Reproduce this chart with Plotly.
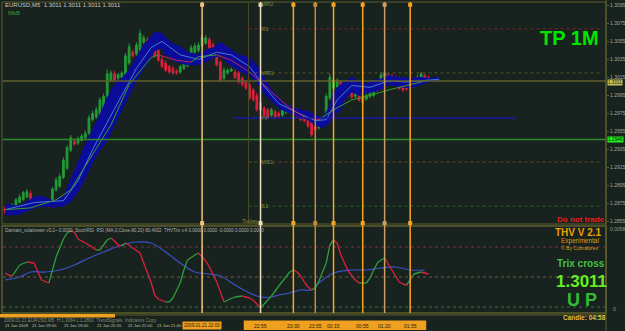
import plotly.graph_objects as go

# ---------------- data ----------------
opens = [1.2870, 1.2871, 1.2868, 1.2868, 1.2876, 1.2879, 1.2882, 1.2886, 1.2880, 1.2878,
         1.2875, 1.2877, 1.2876, 1.2876, 1.2890, 1.2894, 1.2904, 1.2914, 1.2934, 1.2944,
         1.2942, 1.2945, 1.2948, 1.2953, 1.2968, 1.2971, 1.2975, 1.2974, 1.2994, 1.3012,
         1.3019, 1.3014, 1.3015, 1.3017, 1.3031, 1.3043, 1.3041, 1.3045, 1.3054, 1.3057,
         1.3053, 1.3049, 1.3045, 1.3035, 1.3031, 1.3027, 1.3025, 1.3022, 1.3021, 1.3025,
         1.3028, 1.3032, 1.3043, 1.3045, 1.3050, 1.3053, 1.3057, 1.3051, 1.3045, 1.3032,
         1.3014, 1.3020, 1.3022, 1.3021, 1.3020, 1.3014, 1.3010, 1.3007, 1.3001, 1.2995,
         1.2987, 1.2981, 1.2979, 1.2973, 1.2977, 1.2975, 1.2973, 1.2976, 1.2977, 1.2979,
         1.2979, 1.2973, 1.2973, 1.2970, 1.2965, 1.2960, 1.2959, 1.2962, 1.2968, 1.2992,
         1.3003, 1.3005, 1.3010, 1.3001, 1.2995, 1.2998, 1.2994, 1.2995, 1.2994, 1.2991,
         1.2994, 1.2995, 1.3001, 1.3003, 1.3012, 1.3018, 1.3017, 1.3015, 1.3014, 1.3008,
         1.3007, 1.3004, 1.3005, 1.3008, 1.3012, 1.3017, 1.3015]
closes = [1.2865, 1.2867, 1.2873, 1.2879, 1.2882, 1.2887, 1.2888, 1.2876, 1.2873, 1.2874,
          1.2878, 1.2873, 1.2872, 1.2891, 1.2901, 1.2905, 1.2923, 1.2937, 1.2948, 1.2941,
          1.2947, 1.2950, 1.2953, 1.2970, 1.2975, 1.2979, 1.2990, 1.2994, 1.3019, 1.3020,
          1.3012, 1.3018, 1.3020, 1.3039, 1.3049, 1.3039, 1.3051, 1.3064, 1.3059, 1.3045,
          1.3045, 1.3039, 1.3034, 1.3027, 1.3023, 1.3021, 1.3020, 1.3020, 1.3027, 1.3034,
          1.3032, 1.3048, 1.3050, 1.3051, 1.3060, 1.3059, 1.3048, 1.3040, 1.3029, 1.3012,
          1.3023, 1.3023, 1.3024, 1.3015, 1.3010, 1.3007, 1.3003, 1.2992, 1.2990, 1.2979,
          1.2979, 1.2973, 1.2972, 1.2979, 1.2971, 1.2972, 1.2979, 1.2980, 1.2981, 1.2974,
          1.2972, 1.2968, 1.2967, 1.2961, 1.2951, 1.2957, 1.2962, 1.2969, 1.2994, 1.3015,
          1.3012, 1.3012, 1.2999, 1.2991, 1.2999, 1.2993, 1.2999, 1.2990, 1.2987, 1.2995,
          1.2999, 1.3002, 1.3009, 1.3018, 1.3020, 1.3014, 1.3013, 1.3012, 1.3003, 1.3001,
          1.3002, 1.3009, 1.3010, 1.3015, 1.3019, 1.3012, 1.3011]
highs = [1.2872, 1.2873, 1.2875, 1.2881, 1.2885, 1.2889, 1.2891, 1.2889, 1.2882, 1.2880,
         1.2880, 1.2879, 1.2878, 1.2893, 1.2904, 1.2908, 1.2926, 1.2940, 1.2951, 1.2947,
         1.2949, 1.2952, 1.2956, 1.2973, 1.2978, 1.2982, 1.2993, 1.2997, 1.3024, 1.3023,
         1.3022, 1.3020, 1.3022, 1.3042, 1.3053, 1.3046, 1.3054, 1.3068, 1.3062, 1.3060,
         1.3056, 1.3052, 1.3048, 1.3038, 1.3034, 1.3029, 1.3028, 1.3024, 1.3029, 1.3037,
         1.3034, 1.3051, 1.3053, 1.3054, 1.3063, 1.3062, 1.3060, 1.3054, 1.3048, 1.3034,
         1.3026, 1.3025, 1.3026, 1.3024, 1.3022, 1.3016, 1.3012, 1.3009, 1.3003, 1.2998,
         1.2989, 1.2983, 1.2981, 1.2981, 1.2979, 1.2977, 1.2981, 1.2982, 1.2984, 1.2981,
         1.2981, 1.2975, 1.2975, 1.2972, 1.2967, 1.2962, 1.2964, 1.2971, 1.2997, 1.3019,
         1.3014, 1.3014, 1.3012, 1.3003, 1.3001, 1.3000, 1.3001, 1.2997, 1.2996, 1.2997,
         1.3001, 1.3004, 1.3011, 1.3021, 1.3023, 1.3020, 1.3019, 1.3017, 1.3016, 1.3010,
         1.3009, 1.3011, 1.3012, 1.3018, 1.3021, 1.3019, 1.3017]
lows = [1.2863, 1.2866, 1.2866, 1.2866, 1.2875, 1.2878, 1.2881, 1.2874, 1.2871, 1.2872,
        1.2873, 1.2871, 1.2870, 1.2874, 1.2888, 1.2892, 1.2902, 1.2912, 1.2932, 1.2939,
        1.2940, 1.2944, 1.2946, 1.2951, 1.2966, 1.2969, 1.2973, 1.2972, 1.2992, 1.3010,
        1.3010, 1.3012, 1.3013, 1.3015, 1.3029, 1.3037, 1.3039, 1.3043, 1.3052, 1.3043,
        1.3043, 1.3037, 1.3032, 1.3025, 1.3021, 1.3019, 1.3018, 1.3018, 1.3019, 1.3023,
        1.3026, 1.3030, 1.3041, 1.3043, 1.3048, 1.3051, 1.3046, 1.3038, 1.3027, 1.3010,
        1.3012, 1.3018, 1.3021, 1.3013, 1.3008, 1.3005, 1.3001, 1.2990, 1.2988, 1.2977,
        1.2977, 1.2971, 1.2970, 1.2971, 1.2969, 1.2970, 1.2971, 1.2974, 1.2975, 1.2972,
        1.2970, 1.2966, 1.2965, 1.2959, 1.2949, 1.2955, 1.2957, 1.2960, 1.2966, 1.2990,
        1.3001, 1.3003, 1.2997, 1.2989, 1.2993, 1.2991, 1.2992, 1.2988, 1.2985, 1.2989,
        1.2992, 1.2993, 1.2999, 1.3001, 1.3010, 1.3012, 1.3011, 1.3010, 1.3001, 1.2999,
        1.3000, 1.3002, 1.3003, 1.3006, 1.3010, 1.3010, 1.3010]
bars = list(range(len(closes)))

band_bars = [0, 4, 8, 10, 13, 16, 18, 20, 22, 24, 26, 28, 30, 32, 34, 36, 38, 40, 41, 43,
             44, 46, 48, 50, 53, 55, 57, 59, 61, 64, 67, 69, 71, 73, 75, 77, 80, 83, 85, 87,
             89, 90, 92, 93, 95, 97, 99, 101, 103, 105, 108, 111, 114, 116, 119]
band_upper = [1.2874, 1.2872, 1.2882, 1.2883, 1.2878, 1.2883, 1.2901, 1.2921, 1.2940, 1.2957,
              1.2973, 1.2992, 1.3007, 1.3014, 1.3023, 1.3037, 1.3051, 1.3060, 1.3065, 1.3064,
              1.3059, 1.3052, 1.3049, 1.3043, 1.3040, 1.3045, 1.3048, 1.3054, 1.3048, 1.3040,
              1.3037, 1.3028, 1.3014, 1.3001, 1.2992, 1.2985, 1.2980, 1.2977, 1.2973, 1.2970,
              1.2983, 1.2999, 1.3007, 1.3010, 1.3015, 1.3010, 1.3008, 1.3012, 1.3013, 1.3017,
              1.3015, 1.3014, 1.3015, 1.3014, 1.3015]
band_lower = [1.2862, 1.2863, 1.2870, 1.2872, 1.2871, 1.2872, 1.2877, 1.2888, 1.2903, 1.2921,
              1.2934, 1.2945, 1.2962, 1.2979, 1.2995, 1.3012, 1.3025, 1.3037, 1.3045, 1.3048,
              1.3040, 1.3034, 1.3031, 1.3029, 1.3029, 1.3032, 1.3037, 1.3039, 1.3031, 1.3023,
              1.3017, 1.3010, 1.2997, 1.2989, 1.2981, 1.2977, 1.2972, 1.2968, 1.2962, 1.2959,
              1.2965, 1.2972, 1.2979, 1.2990, 1.2999, 1.2995, 1.2998, 1.2999, 1.3002, 1.3007,
              1.3005, 1.3003, 1.3007, 1.3010, 1.3011]

signal_bars = [0, 8, 16, 20, 24, 28, 32, 36, 40, 43, 48, 53, 58, 62, 67, 71, 75, 80, 85, 88,
               91, 95, 100, 105, 110, 116, 119]
signal_vals = [1.2868, 1.2876, 1.2878, 1.2900, 1.2935, 1.2965, 1.2995, 1.3025, 1.3048, 1.3055,
               1.3040, 1.3035, 1.3043, 1.3040, 1.3027, 1.3005, 1.2986, 1.2976, 1.2967, 1.2968,
               1.2990, 1.3006, 1.3004, 1.3011, 1.3010, 1.3012, 1.3013]

trend_bars = [0, 7, 14, 18, 23, 29, 34, 40, 42, 47, 51, 53, 58, 62, 67, 73, 78, 82, 86, 90,
              95, 100, 105, 111, 116]
trend_vals = [1.2868, 1.2870, 1.2879, 1.2890, 1.2923, 1.2962, 1.3007, 1.3037, 1.3040, 1.3034,
              1.3032, 1.3038, 1.3040, 1.3034, 1.3021, 1.2999, 1.2981, 1.2971, 1.2968, 1.2979,
              1.2990, 1.2995, 1.3001, 1.3007, 1.3012]

osc_bars = [0, 1, 2, 4, 6, 8, 9, 10, 12, 13, 14, 16, 17, 18, 19, 20, 22, 23, 25, 26,
            27, 28, 29, 30, 31, 32, 33, 34, 35, 37, 38, 40, 41, 42, 44, 45, 46, 48, 49, 50,
            52, 53, 55, 56, 58, 59, 60, 61, 63, 65, 67, 68, 69, 70, 71, 73, 75, 78, 79, 80,
            81, 82, 83, 84, 85, 86, 88, 89, 90, 91, 92, 93, 94, 96, 97, 99, 100, 101, 102, 103,
            104, 105, 107, 108, 109, 110, 111, 112, 114, 116]
osc_vals = [54, 52, 51, 62, 65, 64, 55, 47, 44, 57, 70, 88, 94, 96, 95, 88, 84, 82, 77, 77,
            82, 87, 89, 86, 82, 81, 84, 82, 79, 74, 64, 45, 32, 28, 25, 25, 29, 44, 57, 67,
            72, 74, 66, 60, 45, 35, 25, 27, 30, 31, 29, 27, 23, 19, 23, 31, 41, 55, 57, 55,
            51, 45, 40, 37, 39, 46, 64, 82, 87, 84, 72, 64, 56, 47, 44, 44, 49, 57, 64, 67,
            69, 63, 51, 45, 43, 42, 47, 53, 55, 53]
slow_bars = [0, 4, 7, 11, 15, 19, 23, 27, 32, 36, 40, 44, 48, 52, 56, 59, 63, 67, 70, 73,
             75, 78, 81, 84, 86, 90, 95, 99, 103, 107, 111, 115]
slow_vals = [47, 50, 55, 55, 57, 62, 69, 75, 82, 85, 84, 75, 64, 55, 53, 51, 42, 34, 30, 30,
             32, 34, 37, 37, 44, 54, 57, 57, 59, 60, 57, 57]
osc_levels = [80, 50, 20]

price_ticks = [1.3095, 1.3075, 1.3055, 1.3035, 1.3015, 1.2995, 1.2975, 1.2955, 1.2935,
               1.2915, 1.2895, 1.2875, 1.2855]
last_price = 1.3011
green_level = 1.2946

today_bar = 66.7
pivot_names = ["MR2", "R1", "MR1", "PP", "MS1", "S1"]
pivot_vals = [1.3097, 1.3069, 1.3020, 1.2970, 1.2921, 1.2872]
pivot_colors = [None, "#7a2a2a", "#56562a", "#1a1aa8", "#6a4a2c", "#2a6a2a"]

vline_bars = [54, 70, 79, 85, 90, 98, 104, 111]
vline_colors = ["#f2c27a", "#eee0c4", "#f5a623", "#c58a34", "#f5a623", "#f5a623", "#c9a064", "#f5a623"]
vline_times = ["2009.01.21 22:00", "22:55", "23:30", "23:55", "00:15", "00:55", "01:20", "01:55"]

time_labels = ["21 Jan 2009", "21 Jan 19:00", "21 Jan 19:40", "21 Jan 20:20", "21 Jan 21:00", "21 Jan 21:40"]
time_bars = [-0.5, 6.8, 15.6, 24.7, 33.2, 41.1]

# ---------------- style / layout ----------------
BG = "#18221e"
OLIVE = "#5e5e2c"
W, H = 625, 331
FONT = "Liberation Sans, Arial, sans-serif"

x_dom = [3 / W, 606 / W]
main_dom = [1 - 224 / H, 1 - 3 / H]
low_dom = [1 - 313 / H, 1 - 227 / H]
x_range = [-0.55, 164.65]
y_range = [1.28521, 1.30977]
osc_range = [14, 100]

fig = go.Figure()

# blue band
fig.add_trace(go.Scatter(x=band_bars, y=band_lower, mode="lines",
                         line=dict(color="#0c0c9a", width=1), hoverinfo="skip",
                         showlegend=False, xaxis="x", yaxis="y"))
fig.add_trace(go.Scatter(x=band_bars, y=band_upper, mode="lines", fill="tonexty",
                         fillcolor="#0c0c9a", line=dict(color="#0c0c9a", width=1),
                         hoverinfo="skip", showlegend=False, xaxis="x", yaxis="y"))
# light-blue line
fig.add_trace(go.Scatter(x=signal_bars, y=signal_vals, mode="lines",
                         line=dict(color="#4a78d0", width=1),
                         hoverinfo="skip", showlegend=False, xaxis="x", yaxis="y"))

# candles
fig.add_trace(go.Candlestick(x=bars, open=opens, high=highs, low=lows, close=closes,
                             increasing=dict(line=dict(color="#239a38", width=1), fillcolor="#239a38"),
                             decreasing=dict(line=dict(color="#d8203c", width=1), fillcolor="#d8203c"),
                             whiskerwidth=0, hoverinfo="skip", showlegend=False,
                             xaxis="x", yaxis="y"))


def split_slope(xs, ys):
    gx, gy, rx, ry = [], [], [], []
    for k in range(len(xs) - 1):
        if ys[k + 1] >= ys[k]:
            gx += [xs[k], xs[k + 1], None]
            gy += [ys[k], ys[k + 1], None]
        else:
            rx += [xs[k], xs[k + 1], None]
            ry += [ys[k], ys[k + 1], None]
    return gx, gy, rx, ry


gx, gy, rx, ry = split_slope(trend_bars, trend_vals)
fig.add_trace(go.Scatter(x=gx, y=gy, mode="lines", line=dict(color="#3c9a30", width=1),
                         hoverinfo="skip", showlegend=False, xaxis="x", yaxis="y"))
fig.add_trace(go.Scatter(x=rx, y=ry, mode="lines", line=dict(color="#c8244a", width=1),
                         hoverinfo="skip", showlegend=False, xaxis="x", yaxis="y"))

# lower panel
fig.add_trace(go.Scatter(x=slow_bars, y=slow_vals, mode="lines",
                         line=dict(color="#3a52c8", width=1.2, shape="spline"),
                         hoverinfo="skip", showlegend=False, xaxis="x2", yaxis="y2"))
gx, gy, rx, ry = split_slope(osc_bars, osc_vals)
fig.add_trace(go.Scatter(x=gx, y=gy, mode="lines", line=dict(color="#2e9e3e", width=1.3),
                         hoverinfo="skip", showlegend=False, xaxis="x2", yaxis="y2"))
fig.add_trace(go.Scatter(x=rx, y=ry, mode="lines", line=dict(color="#e0203e", width=1.3),
                         hoverinfo="skip", showlegend=False, xaxis="x2", yaxis="y2"))

# markers on vertical lines
fig.add_trace(go.Scatter(x=vline_bars + vline_bars,
                         y=[y_range[1] - 0.0002] * len(vline_bars) + [y_range[0] + 0.0001] * len(vline_bars),
                         mode="markers", marker=dict(symbol="square", size=4,
                                                     color=vline_colors + vline_colors),
                         cliponaxis=False, hoverinfo="skip", showlegend=False,
                         xaxis="x", yaxis="y"))

shapes = []
# frames
shapes.append(dict(type="rect", xref="paper", yref="paper", x0=2 / W, x1=606 / W,
                   y0=main_dom[0], y1=1 - 2 / H, line=dict(color=OLIVE, width=1), layer="below"))
shapes.append(dict(type="rect", xref="paper", yref="paper", x0=2 / W, x1=606 / W,
                   y0=low_dom[0], y1=1 - 226 / H, line=dict(color=OLIVE, width=1.5), layer="below"))
shapes.append(dict(type="line", xref="paper", yref="paper", x0=0, x1=606 / W,
                   y0=1 - 315 / H, y1=1 - 315 / H, line=dict(color=OLIVE, width=1)))
shapes.append(dict(type="line", xref="paper", yref="paper", x0=606 / W, x1=606 / W,
                   y0=0, y1=1, line=dict(color=OLIVE, width=1)))
# orange progress bar
shapes.append(dict(type="rect", xref="paper", yref="paper", x0=0, x1=115 / W,
                   y0=1 - 317.5 / H, y1=1 - 314 / H, fillcolor="#f0a020", line=dict(width=0)))
# orange time-label strip for the vertical lines
shapes.append(dict(type="rect", xref="x", yref="paper", x0=vline_bars[1] - 4.6, x1=vline_bars[-1] + 4.4,
                   y0=1 - 330 / H, y1=1 - 320.5 / H, fillcolor="#f0a020", line=dict(width=0)))

# horizontal price lines
shapes.append(dict(type="line", xref="paper", yref="y", x0=x_dom[0], x1=x_dom[1],
                   y0=last_price, y1=last_price, line=dict(color="#62622c", width=1.5)))
shapes.append(dict(type="line", xref="paper", yref="y", x0=x_dom[0], x1=x_dom[1],
                   y0=green_level, y1=green_level, line=dict(color="#2c8a2c", width=1.5)))

# today line
shapes.append(dict(type="line", xref="x", yref="paper", x0=today_bar, x1=today_bar,
                   y0=main_dom[0], y1=main_dom[1], line=dict(color="#4c4c22", width=1)))

# pivots
for name, val, col in zip(pivot_names, pivot_vals, pivot_colors):
    if col is None:
        continue
    if name == "PP":
        shapes.append(dict(type="line", xref="x", yref="y", x0=today_bar - 4, x1=140,
                           y0=val, y1=val, line=dict(color=col, width=1.5)))
    else:
        shapes.append(dict(type="line", xref="x", yref="y", x0=today_bar, x1=163,
                           y0=val, y1=val, line=dict(color=col, width=1, dash="dot")))

# oscillator levels
for lv, col in zip(osc_levels, ["#8a2a3a", "#7a5a3a", "#2a7a2a"]):
    shapes.append(dict(type="line", xref="paper", yref="y2", x0=x_dom[0], x1=x_dom[1],
                       y0=lv, y1=lv, line=dict(color=col, width=1, dash="dot")))

# vertical lines
for b, c in zip(vline_bars, vline_colors):
    shapes.append(dict(type="line", xref="x", yref="paper", x0=b, x1=b,
                       y0=low_dom[0], y1=1 - 2 / H, line=dict(color=c, width=1.5)))

ann = []


def txt(x, y, t, size, color, bold=False, xanchor="center", xref="paper", yref="paper", **kw):
    a = dict(x=x, y=y, xref=xref, yref=yref, text=("<b>%s</b>" % t) if bold else t,
             showarrow=False, xanchor=xanchor, yanchor="middle",
             font=dict(family=FONT, size=size, color=color))
    a.update(kw)
    ann.append(a)


txt(3 / W, 1 - 5 / H, "EURUSD,M5  1.3011 1.3011 1.3011 1.3011", 6, "#c8c8c0", xanchor="left")
txt(6 / W, 1 - 13 / H, "MkB", 6, "#3a9a3a", xanchor="left")
txt(569 / W, 1 - 38 / H, "TP 1M", 20, "#00e600", bold=True)
txt(581 / W, 1 - 219.5 / H, "Do not trade", 8, "#e81c1c", bold=True)

for name, val in zip(pivot_names, pivot_vals):
    txt(today_bar + 2.8, val, name, 6, "#86863a", xanchor="left", xref="x", yref="y")
txt(today_bar + 0.3, 1 - 221 / H, "Today", 6, "#86863a", xref="x")

# right axis highlight boxes
txt(607 / W, last_price - 0.00016, "1.3011", 4.6, "#1a1a08", xanchor="left", yref="y",
    bgcolor="#c2c05a", borderpad=0)
txt(607 / W, green_level, "1.2946", 4.8, "#0a200a", xanchor="left", yref="y",
    bgcolor="#22ee22", borderpad=0)

# lower panel texts
txt(3 / W, 1 - 230.5 / H,
    "Damiani_volatmeter v3.2~ 0.0000  StochRSI  RSI (MA,0,Close,80,20) 80.4932  THVTrix v.4 0.0000 0.0000 -0.0000 0.0000 0.0000",
    4.5, "#b4b4a8", xanchor="left")
txt(578 / W, 1 - 232 / H, "THV V 2.1", 10, "#f0a000", bold=True)
txt(580 / W, 1 - 240.5 / H, "Experimental", 6.5, "#e09a10")
txt(580 / W, 1 - 248 / H, "© By Cobraforex", 5, "#d0a020")
txt(581 / W, 1 - 263.5 / H, "Trix cross", 10, "#44c044", bold=True)
txt(581 / W, 1 - 281 / H, "1.3011", 17, "#66ee22", bold=True)
txt(582 / W, 1 - 300 / H, "U P", 18, "#33bb33", bold=True)
txt(584 / W, 1 - 317.5 / H, "Candle: 04:58", 6.5, "#e8c040", bold=True)
txt(608 / W, 1 - 229 / H, "0.0058", 5, "#9a9a80", xanchor="left")
txt(611 / W, 1 - 309 / H, "0", 5, "#9a9a80", xanchor="left")
txt(2 / W, 1 - 320 / H, "2009.01.21 EURUSD,M5  H:1.3064 L:1.2863  TrendSignals  Indicators Copy",
    4.5, "#8a8a78", xanchor="left")

# time axis labels
for b, t in zip(time_bars, time_labels):
    txt(b, 1 - 325.5 / H, t, 4.2, "#c0c0a8", xref="x", xanchor="left")
txt(vline_bars[0], 1 - 325.5 / H, vline_times[0], 4.6, "#2a1a00", xref="x",
    bgcolor="#f0a020", borderpad=1)
for b, t in zip(vline_bars[1:], vline_times[1:]):
    txt(b, 1 - 325.5 / H, t, 5, "#2a1a00", xref="x")

fig.update_layout(
    width=W, height=H, margin=dict(l=0, r=0, t=0, b=0),
    paper_bgcolor=BG, plot_bgcolor=BG, hovermode=False, showlegend=False,
    shapes=shapes, annotations=ann,
    xaxis=dict(domain=x_dom, range=x_range, anchor="y", showticklabels=False, showgrid=False,
               zeroline=False, rangeslider=dict(visible=False), fixedrange=True),
    yaxis=dict(domain=main_dom, range=y_range, anchor="x", side="right", tickvals=price_ticks,
               ticktext=["%.4f" % v for v in price_ticks], ticks="outside", ticklen=2,
               tickcolor=OLIVE, tickfont=dict(family=FONT, size=5, color="#a8a890"),
               showgrid=False, zeroline=False, fixedrange=True),
    xaxis2=dict(domain=x_dom, range=x_range, anchor="y2", matches="x", showticklabels=False,
                showgrid=False, zeroline=False, fixedrange=True),
    yaxis2=dict(domain=low_dom, range=osc_range, anchor="x2", showticklabels=False,
                showgrid=False, zeroline=False, fixedrange=True),
)

fig.write_html("out.html", config={"displayModeBar": False, "staticPlot": True})
